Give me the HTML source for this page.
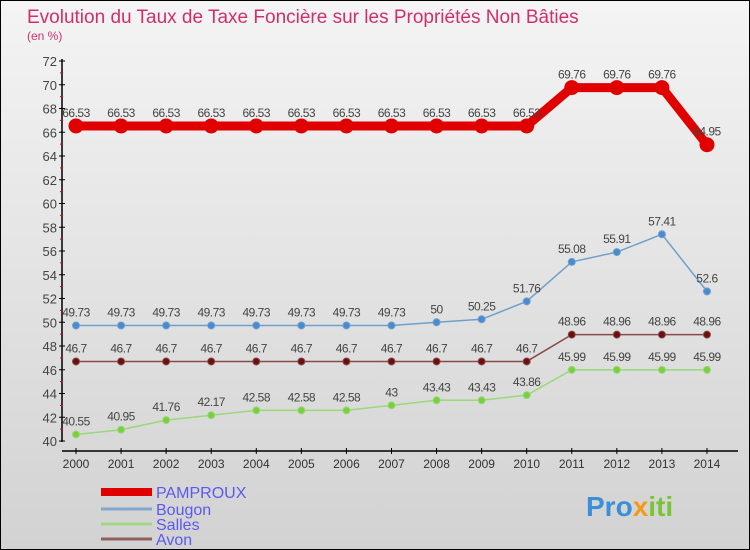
<!DOCTYPE html>
<html><head><meta charset="utf-8"><style>
body{margin:0}
#c{width:748px;height:548px;border:1px solid #000;background:linear-gradient(#f4f4f4,#d2d2d2);position:relative;font-family:"Liberation Sans",sans-serif;overflow:hidden}
text{font-family:"Liberation Sans",sans-serif}
</style></head><body>
<div id="c">
<svg id="s" width="748" height="548">
<text x="26" y="22" font-size="19" fill="#d0306a">Evolution du Taux de Taxe Foncière sur les Propriétés Non Bâties</text>
<text x="26" y="39" font-size="12" fill="#d0306a">(en %)</text>
<g id="g"></g>
<text x="585" y="515" font-size="28" font-weight="bold" fill="#3a8fd8">Pro<tspan fill="#f39a1a">x</tspan><tspan fill="#7ac43a">iti</tspan></text>
</svg></div>
<script>
const years=[2000,2001,2002,2003,2004,2005,2006,2007,2008,2009,2010,2011,2012,2013,2014];
const yTicks=[40,42,44,46,48,50,52,54,56,58,60,62,64,66,68,70,72];
const pamproux=[66.53,66.53,66.53,66.53,66.53,66.53,66.53,66.53,66.53,66.53,66.53,69.76,69.76,69.76,64.95];
const bougon=[49.73,49.73,49.73,49.73,49.73,49.73,49.73,49.73,50,50.25,51.76,55.08,55.91,57.41,52.6];
const salles=[40.55,40.95,41.76,42.17,42.58,42.58,42.58,43,43.43,43.43,43.86,45.99,45.99,45.99,45.99];
const avon=[46.7,46.7,46.7,46.7,46.7,46.7,46.7,46.7,46.7,46.7,46.7,48.96,48.96,48.96,48.96];
const NS="http://www.w3.org/2000/svg",g=document.getElementById('g');
const X=i=>75+i*45.07, Y=v=>440-(v-40)*11.875;
function el(t,a,p){const e=document.createElementNS(NS,t);for(const k in a)e.setAttribute(k,a[k]);(p||g).appendChild(e);return e;}
let e=el('line',{x1:61,y1:58,x2:61,y2:441,stroke:'#000','stroke-width':1.5});

e=el('line',{x1:61,y1:450,x2:737,y2:450,stroke:'#000','stroke-width':1.5});

yTicks.forEach(v=>{const y=Y(v);
 el('line',{x1:58,x2:64,y1:y,y2:y,stroke:'#000'});
 if(v<72)el('line',{x1:59,x2:62,y1:y-11.875,y2:y-11.875,stroke:'#e00'});
 const t=el('text',{x:56,y:y+5,'font-size':13,fill:'#444','text-anchor':'end'});t.textContent=v;
 });
years.forEach((yr,i)=>{el('line',{x1:X(i),x2:X(i),y1:447,y2:453,stroke:'#000'});
 const t=el('text',{x:X(i),y:467,'font-size':12,fill:'#333','text-anchor':'middle'});t.textContent=yr;
 });
function series(d,name,col,lw,r,mc){
 const p=el('polyline',{points:d.map((v,i)=>X(i)+','+Y(v)).join(' '),fill:'none',stroke:col,'stroke-width':lw});
 
 d.forEach((v,i)=>{const c=el('circle',{cx:X(i),cy:Y(v),r:r,fill:mc,stroke:col,'stroke-width':1});
  
  const t=el('text',{x:X(i),y:Y(v)-9,'font-size':12,fill:'#444','text-anchor':'middle','letter-spacing':'-0.5'});t.textContent=v;
  });
}
series(pamproux,'pamproux','#e00000',9,7,'#e00000');
series(bougon,'bougon','#6fa0cc',1.5,3.5,'#4a8ad0');
series(salles,'salles','#9ad878',1.5,3.5,'#78d040');
series(avon,'avon','#8a4a4a',1.5,3.5,'#6b1010');
[['PAMPROUX','#e00000',8,491],['Bougon','#80a8cc',3,508],['Salles','#a0d888',3,523],['Avon','#906060',3,538]].forEach(([n,c,w,y])=>{
 const l=el('line',{x1:100,x2:151,y1:y,y2:y,stroke:c,'stroke-width':w});
 
 const t=el('text',{x:155,y:y+6,'font-size':16,fill:'#5a5aee'});t.textContent=n;
 });
</script></body></html>
